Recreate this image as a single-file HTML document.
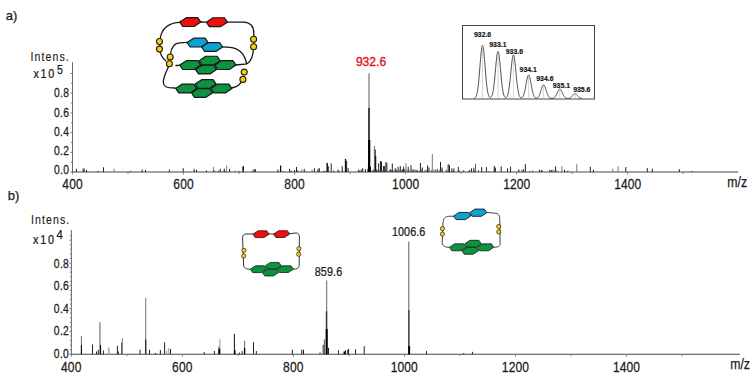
<!DOCTYPE html>
<html><head><meta charset="utf-8"><title>Mass spectra</title>
<style>html,body{margin:0;padding:0;background:#fff;}svg{display:block;}</style></head>
<body><svg width="755" height="382" viewBox="0 0 755 382" font-family="Liberation Sans, sans-serif">
<rect width="755" height="382" fill="#fff"/>
<line x1="72.5" y1="62.2" x2="72.5" y2="172.5" stroke="#666" stroke-width="1"/>
<line x1="72.0" y1="172.0" x2="738.3" y2="172.0" stroke="#484848" stroke-width="1.05"/>
<line x1="70.3" y1="172.00" x2="72.5" y2="172.00" stroke="#777" stroke-width="0.9"/>
<line x1="70.9" y1="162.15" x2="72.5" y2="162.15" stroke="#777" stroke-width="0.9"/>
<line x1="70.3" y1="152.30" x2="72.5" y2="152.30" stroke="#777" stroke-width="0.9"/>
<line x1="70.9" y1="142.45" x2="72.5" y2="142.45" stroke="#777" stroke-width="0.9"/>
<line x1="70.3" y1="132.60" x2="72.5" y2="132.60" stroke="#777" stroke-width="0.9"/>
<line x1="70.9" y1="122.75" x2="72.5" y2="122.75" stroke="#777" stroke-width="0.9"/>
<line x1="70.3" y1="112.90" x2="72.5" y2="112.90" stroke="#777" stroke-width="0.9"/>
<line x1="70.9" y1="103.05" x2="72.5" y2="103.05" stroke="#777" stroke-width="0.9"/>
<line x1="70.3" y1="93.20" x2="72.5" y2="93.20" stroke="#777" stroke-width="0.9"/>
<line x1="70.9" y1="83.35" x2="72.5" y2="83.35" stroke="#777" stroke-width="0.9"/>
<line x1="70.3" y1="73.50" x2="72.5" y2="73.50" stroke="#777" stroke-width="0.9"/>
<line x1="72.50" y1="172.0" x2="72.50" y2="174.5" stroke="#777" stroke-width="0.9"/>
<line x1="128.02" y1="172.0" x2="128.02" y2="174.0" stroke="#777" stroke-width="0.9"/>
<line x1="183.54" y1="172.0" x2="183.54" y2="174.5" stroke="#777" stroke-width="0.9"/>
<line x1="239.06" y1="172.0" x2="239.06" y2="174.0" stroke="#777" stroke-width="0.9"/>
<line x1="294.58" y1="172.0" x2="294.58" y2="174.5" stroke="#777" stroke-width="0.9"/>
<line x1="350.10" y1="172.0" x2="350.10" y2="174.0" stroke="#777" stroke-width="0.9"/>
<line x1="405.62" y1="172.0" x2="405.62" y2="174.5" stroke="#777" stroke-width="0.9"/>
<line x1="461.14" y1="172.0" x2="461.14" y2="174.0" stroke="#777" stroke-width="0.9"/>
<line x1="516.66" y1="172.0" x2="516.66" y2="174.5" stroke="#777" stroke-width="0.9"/>
<line x1="572.18" y1="172.0" x2="572.18" y2="174.0" stroke="#777" stroke-width="0.9"/>
<line x1="627.70" y1="172.0" x2="627.70" y2="174.5" stroke="#777" stroke-width="0.9"/>
<line x1="683.22" y1="172.0" x2="683.22" y2="174.0" stroke="#777" stroke-width="0.9"/>
<line x1="71.4" y1="230.0" x2="71.4" y2="354.7" stroke="#666" stroke-width="1"/>
<line x1="70.9" y1="354.2" x2="740.0" y2="354.2" stroke="#484848" stroke-width="1.05"/>
<line x1="69.2" y1="354.20" x2="71.4" y2="354.20" stroke="#777" stroke-width="0.9"/>
<line x1="69.80000000000001" y1="349.64" x2="71.4" y2="349.64" stroke="#777" stroke-width="0.9"/>
<line x1="69.80000000000001" y1="345.08" x2="71.4" y2="345.08" stroke="#777" stroke-width="0.9"/>
<line x1="69.80000000000001" y1="340.52" x2="71.4" y2="340.52" stroke="#777" stroke-width="0.9"/>
<line x1="69.80000000000001" y1="335.96" x2="71.4" y2="335.96" stroke="#777" stroke-width="0.9"/>
<line x1="69.2" y1="331.40" x2="71.4" y2="331.40" stroke="#777" stroke-width="0.9"/>
<line x1="69.80000000000001" y1="326.84" x2="71.4" y2="326.84" stroke="#777" stroke-width="0.9"/>
<line x1="69.80000000000001" y1="322.28" x2="71.4" y2="322.28" stroke="#777" stroke-width="0.9"/>
<line x1="69.80000000000001" y1="317.72" x2="71.4" y2="317.72" stroke="#777" stroke-width="0.9"/>
<line x1="69.80000000000001" y1="313.16" x2="71.4" y2="313.16" stroke="#777" stroke-width="0.9"/>
<line x1="69.2" y1="308.60" x2="71.4" y2="308.60" stroke="#777" stroke-width="0.9"/>
<line x1="69.80000000000001" y1="304.04" x2="71.4" y2="304.04" stroke="#777" stroke-width="0.9"/>
<line x1="69.80000000000001" y1="299.48" x2="71.4" y2="299.48" stroke="#777" stroke-width="0.9"/>
<line x1="69.80000000000001" y1="294.92" x2="71.4" y2="294.92" stroke="#777" stroke-width="0.9"/>
<line x1="69.80000000000001" y1="290.36" x2="71.4" y2="290.36" stroke="#777" stroke-width="0.9"/>
<line x1="69.2" y1="285.80" x2="71.4" y2="285.80" stroke="#777" stroke-width="0.9"/>
<line x1="69.80000000000001" y1="281.24" x2="71.4" y2="281.24" stroke="#777" stroke-width="0.9"/>
<line x1="69.80000000000001" y1="276.68" x2="71.4" y2="276.68" stroke="#777" stroke-width="0.9"/>
<line x1="69.80000000000001" y1="272.12" x2="71.4" y2="272.12" stroke="#777" stroke-width="0.9"/>
<line x1="69.80000000000001" y1="267.56" x2="71.4" y2="267.56" stroke="#777" stroke-width="0.9"/>
<line x1="69.2" y1="263.00" x2="71.4" y2="263.00" stroke="#777" stroke-width="0.9"/>
<line x1="69.80000000000001" y1="258.44" x2="71.4" y2="258.44" stroke="#777" stroke-width="0.9"/>
<line x1="69.80000000000001" y1="253.88" x2="71.4" y2="253.88" stroke="#777" stroke-width="0.9"/>
<line x1="69.80000000000001" y1="249.32" x2="71.4" y2="249.32" stroke="#777" stroke-width="0.9"/>
<line x1="69.80000000000001" y1="244.76" x2="71.4" y2="244.76" stroke="#777" stroke-width="0.9"/>
<line x1="69.2" y1="240.20" x2="71.4" y2="240.20" stroke="#777" stroke-width="0.9"/>
<line x1="69.80000000000001" y1="235.64" x2="71.4" y2="235.64" stroke="#777" stroke-width="0.9"/>
<line x1="71.40" y1="354.2" x2="71.40" y2="356.7" stroke="#777" stroke-width="0.9"/>
<line x1="126.92" y1="354.2" x2="126.92" y2="356.2" stroke="#777" stroke-width="0.9"/>
<line x1="182.44" y1="354.2" x2="182.44" y2="356.7" stroke="#777" stroke-width="0.9"/>
<line x1="237.96" y1="354.2" x2="237.96" y2="356.2" stroke="#777" stroke-width="0.9"/>
<line x1="293.48" y1="354.2" x2="293.48" y2="356.7" stroke="#777" stroke-width="0.9"/>
<line x1="349.00" y1="354.2" x2="349.00" y2="356.2" stroke="#777" stroke-width="0.9"/>
<line x1="404.52" y1="354.2" x2="404.52" y2="356.7" stroke="#777" stroke-width="0.9"/>
<line x1="460.04" y1="354.2" x2="460.04" y2="356.2" stroke="#777" stroke-width="0.9"/>
<line x1="515.56" y1="354.2" x2="515.56" y2="356.7" stroke="#777" stroke-width="0.9"/>
<line x1="571.08" y1="354.2" x2="571.08" y2="356.2" stroke="#777" stroke-width="0.9"/>
<line x1="626.60" y1="354.2" x2="626.60" y2="356.7" stroke="#777" stroke-width="0.9"/>
<line x1="682.12" y1="354.2" x2="682.12" y2="356.2" stroke="#777" stroke-width="0.9"/>
<text x="5.8" y="20.0" font-size="13" text-anchor="start" font-weight="normal" fill="#1a1a1a" stroke="#1a1a1a" stroke-width="0.25">a)</text>
<text x="7.8" y="200.0" font-size="13" text-anchor="start" font-weight="normal" fill="#1a1a1a" stroke="#1a1a1a" stroke-width="0.25">b)</text>
<text transform="translate(30.6,60.7) scale(0.88,1)" x="0" y="0" font-size="12" text-anchor="start" font-weight="normal" fill="#1a1a1a" stroke="#1a1a1a" stroke-width="0.12" textLength="43.41" lengthAdjust="spacing">Intens.</text>
<text transform="translate(33.4,77.7) scale(0.9,1)" x="0" y="0" font-size="12" text-anchor="start" font-weight="normal" fill="#1a1a1a" stroke="#1a1a1a" stroke-width="0.25" textLength="23.11" lengthAdjust="spacing">x10</text>
<text x="56.9" y="73.5" font-size="12.5" text-anchor="start" font-weight="normal" fill="#1a1a1a" stroke="#1a1a1a" stroke-width="0.25" textLength="5.9" lengthAdjust="spacingAndGlyphs">5</text>
<text transform="translate(31.1,224.4) scale(0.88,1)" x="0" y="0" font-size="12" text-anchor="start" font-weight="normal" fill="#1a1a1a" stroke="#1a1a1a" stroke-width="0.12" textLength="43.41" lengthAdjust="spacing">Intens.</text>
<text transform="translate(33.1,244.0) scale(0.9,1)" x="0" y="0" font-size="12" text-anchor="start" font-weight="normal" fill="#1a1a1a" stroke="#1a1a1a" stroke-width="0.25" textLength="23.11" lengthAdjust="spacing">x10</text>
<text x="56.5" y="238.8" font-size="12" text-anchor="start" font-weight="normal" fill="#1a1a1a" stroke="#1a1a1a" stroke-width="0.25" textLength="6.3" lengthAdjust="spacingAndGlyphs">4</text>
<text transform="translate(69.0,173.7) scale(0.86,1)" x="0" y="0" font-size="12" text-anchor="end" font-weight="normal" fill="#1a1a1a" stroke="#1a1a1a" stroke-width="0.25" textLength="17.44" lengthAdjust="spacing">0.0</text>
<text transform="translate(69.0,155.39999999999998) scale(0.86,1)" x="0" y="0" font-size="12" text-anchor="end" font-weight="normal" fill="#1a1a1a" stroke="#1a1a1a" stroke-width="0.25" textLength="17.44" lengthAdjust="spacing">0.2</text>
<text transform="translate(69.0,136.2) scale(0.86,1)" x="0" y="0" font-size="12" text-anchor="end" font-weight="normal" fill="#1a1a1a" stroke="#1a1a1a" stroke-width="0.25" textLength="17.44" lengthAdjust="spacing">0.4</text>
<text transform="translate(69.0,117.10000000000001) scale(0.86,1)" x="0" y="0" font-size="12" text-anchor="end" font-weight="normal" fill="#1a1a1a" stroke="#1a1a1a" stroke-width="0.25" textLength="17.44" lengthAdjust="spacing">0.6</text>
<text transform="translate(69.0,97.10000000000001) scale(0.86,1)" x="0" y="0" font-size="12" text-anchor="end" font-weight="normal" fill="#1a1a1a" stroke="#1a1a1a" stroke-width="0.25" textLength="17.44" lengthAdjust="spacing">0.8</text>
<text transform="translate(68.8,358.0) scale(0.86,1)" x="0" y="0" font-size="12" text-anchor="end" font-weight="normal" fill="#1a1a1a" stroke="#1a1a1a" stroke-width="0.25" textLength="17.44" lengthAdjust="spacing">0.0</text>
<text transform="translate(68.8,335.0) scale(0.86,1)" x="0" y="0" font-size="12" text-anchor="end" font-weight="normal" fill="#1a1a1a" stroke="#1a1a1a" stroke-width="0.25" textLength="17.44" lengthAdjust="spacing">0.2</text>
<text transform="translate(68.8,313.0) scale(0.86,1)" x="0" y="0" font-size="12" text-anchor="end" font-weight="normal" fill="#1a1a1a" stroke="#1a1a1a" stroke-width="0.25" textLength="17.44" lengthAdjust="spacing">0.4</text>
<text transform="translate(68.8,290.4) scale(0.86,1)" x="0" y="0" font-size="12" text-anchor="end" font-weight="normal" fill="#1a1a1a" stroke="#1a1a1a" stroke-width="0.25" textLength="17.44" lengthAdjust="spacing">0.6</text>
<text transform="translate(68.8,268.2) scale(0.86,1)" x="0" y="0" font-size="12" text-anchor="end" font-weight="normal" fill="#1a1a1a" stroke="#1a1a1a" stroke-width="0.25" textLength="17.44" lengthAdjust="spacing">0.8</text>
<text transform="translate(72.5,188.6) scale(0.86,1)" x="0" y="0" font-size="14" text-anchor="middle" font-weight="normal" fill="#1a1a1a" stroke="#1a1a1a" stroke-width="0.25" textLength="23.84" lengthAdjust="spacing">400</text>
<text transform="translate(71.2,372.1) scale(0.86,1)" x="0" y="0" font-size="14" text-anchor="middle" font-weight="normal" fill="#1a1a1a" stroke="#1a1a1a" stroke-width="0.25" textLength="23.84" lengthAdjust="spacing">400</text>
<text transform="translate(183.54000000000002,188.6) scale(0.86,1)" x="0" y="0" font-size="14" text-anchor="middle" font-weight="normal" fill="#1a1a1a" stroke="#1a1a1a" stroke-width="0.25" textLength="23.84" lengthAdjust="spacing">600</text>
<text transform="translate(182.24,372.1) scale(0.86,1)" x="0" y="0" font-size="14" text-anchor="middle" font-weight="normal" fill="#1a1a1a" stroke="#1a1a1a" stroke-width="0.25" textLength="23.84" lengthAdjust="spacing">600</text>
<text transform="translate(294.58000000000004,188.6) scale(0.86,1)" x="0" y="0" font-size="14" text-anchor="middle" font-weight="normal" fill="#1a1a1a" stroke="#1a1a1a" stroke-width="0.25" textLength="23.84" lengthAdjust="spacing">800</text>
<text transform="translate(293.28000000000003,372.1) scale(0.86,1)" x="0" y="0" font-size="14" text-anchor="middle" font-weight="normal" fill="#1a1a1a" stroke="#1a1a1a" stroke-width="0.25" textLength="23.84" lengthAdjust="spacing">800</text>
<text transform="translate(405.62,188.6) scale(0.86,1)" x="0" y="0" font-size="14" text-anchor="middle" font-weight="normal" fill="#1a1a1a" stroke="#1a1a1a" stroke-width="0.25" textLength="31.40" lengthAdjust="spacing">1000</text>
<text transform="translate(404.32,372.1) scale(0.86,1)" x="0" y="0" font-size="14" text-anchor="middle" font-weight="normal" fill="#1a1a1a" stroke="#1a1a1a" stroke-width="0.25" textLength="31.40" lengthAdjust="spacing">1000</text>
<text transform="translate(516.6600000000001,188.6) scale(0.86,1)" x="0" y="0" font-size="14" text-anchor="middle" font-weight="normal" fill="#1a1a1a" stroke="#1a1a1a" stroke-width="0.25" textLength="31.40" lengthAdjust="spacing">1200</text>
<text transform="translate(515.36,372.1) scale(0.86,1)" x="0" y="0" font-size="14" text-anchor="middle" font-weight="normal" fill="#1a1a1a" stroke="#1a1a1a" stroke-width="0.25" textLength="31.40" lengthAdjust="spacing">1200</text>
<text transform="translate(627.7,188.6) scale(0.86,1)" x="0" y="0" font-size="14" text-anchor="middle" font-weight="normal" fill="#1a1a1a" stroke="#1a1a1a" stroke-width="0.25" textLength="31.40" lengthAdjust="spacing">1400</text>
<text transform="translate(626.4000000000001,372.1) scale(0.86,1)" x="0" y="0" font-size="14" text-anchor="middle" font-weight="normal" fill="#1a1a1a" stroke="#1a1a1a" stroke-width="0.25" textLength="31.40" lengthAdjust="spacing">1400</text>
<text x="727.3" y="186.8" font-size="14" text-anchor="start" font-weight="normal" fill="#1a1a1a" stroke="#1a1a1a" stroke-width="0.25" textLength="19.8" lengthAdjust="spacingAndGlyphs">m/z</text>
<text x="730.2" y="369.0" font-size="14" text-anchor="start" font-weight="normal" fill="#1a1a1a" stroke="#1a1a1a" stroke-width="0.25" textLength="19.8" lengthAdjust="spacingAndGlyphs">m/z</text>
<line x1="76.40" y1="168.80" x2="76.40" y2="172.00" stroke="#222" stroke-width="1.0"/>
<line x1="83.20" y1="168.60" x2="83.20" y2="172.00" stroke="#222" stroke-width="1.0"/>
<line x1="84.20" y1="168.60" x2="84.20" y2="172.00" stroke="#222" stroke-width="1.0"/>
<line x1="86.60" y1="170.00" x2="86.60" y2="172.00" stroke="#222" stroke-width="1.0"/>
<line x1="97.80" y1="170.80" x2="97.80" y2="172.00" stroke="#222" stroke-width="1.0"/>
<line x1="103.50" y1="167.30" x2="103.50" y2="172.00" stroke="#222" stroke-width="1.0"/>
<line x1="114.10" y1="168.80" x2="114.10" y2="172.00" stroke="#777" stroke-width="1.0"/>
<line x1="130.30" y1="171.00" x2="130.30" y2="172.00" stroke="#222" stroke-width="1.0"/>
<line x1="142.20" y1="169.50" x2="142.20" y2="172.00" stroke="#222" stroke-width="1.0"/>
<line x1="145.50" y1="170.00" x2="145.50" y2="172.00" stroke="#222" stroke-width="1.0"/>
<line x1="169.30" y1="169.50" x2="169.30" y2="172.00" stroke="#222" stroke-width="1.0"/>
<line x1="183.20" y1="168.20" x2="183.20" y2="172.00" stroke="#222" stroke-width="1.0"/>
<line x1="194.20" y1="168.80" x2="194.20" y2="172.00" stroke="#222" stroke-width="1.0"/>
<line x1="196.50" y1="169.90" x2="196.50" y2="172.00" stroke="#222" stroke-width="1.0"/>
<line x1="206.40" y1="170.40" x2="206.40" y2="172.00" stroke="#222" stroke-width="1.0"/>
<line x1="213.40" y1="166.90" x2="213.40" y2="172.00" stroke="#777" stroke-width="1.0"/>
<line x1="218.70" y1="170.80" x2="218.70" y2="172.00" stroke="#222" stroke-width="1.0"/>
<line x1="220.30" y1="168.80" x2="220.30" y2="172.00" stroke="#222" stroke-width="1.0"/>
<line x1="224.30" y1="168.60" x2="224.30" y2="172.00" stroke="#222" stroke-width="1.0"/>
<line x1="226.70" y1="165.50" x2="226.70" y2="172.00" stroke="#777" stroke-width="1.0"/>
<line x1="229.60" y1="168.80" x2="229.60" y2="172.00" stroke="#222" stroke-width="1.0"/>
<line x1="238.90" y1="171.00" x2="238.90" y2="172.00" stroke="#222" stroke-width="1.0"/>
<line x1="243.20" y1="166.20" x2="243.20" y2="172.00" stroke="#111" stroke-width="1.6"/>
<line x1="254.10" y1="169.10" x2="254.10" y2="172.00" stroke="#222" stroke-width="1.0"/>
<line x1="255.40" y1="169.10" x2="255.40" y2="172.00" stroke="#222" stroke-width="1.0"/>
<line x1="277.90" y1="169.50" x2="277.90" y2="172.00" stroke="#222" stroke-width="1.0"/>
<line x1="280.60" y1="165.50" x2="280.60" y2="172.00" stroke="#111" stroke-width="1.3"/>
<line x1="289.60" y1="168.80" x2="289.60" y2="172.00" stroke="#222" stroke-width="1.0"/>
<line x1="291.20" y1="170.80" x2="291.20" y2="172.00" stroke="#222" stroke-width="1.0"/>
<line x1="294.50" y1="170.20" x2="294.50" y2="172.00" stroke="#222" stroke-width="1.0"/>
<line x1="296.50" y1="166.90" x2="296.50" y2="172.00" stroke="#222" stroke-width="1.0"/>
<line x1="304.20" y1="168.80" x2="304.20" y2="172.00" stroke="#222" stroke-width="1.0"/>
<line x1="314.40" y1="168.20" x2="314.40" y2="172.00" stroke="#222" stroke-width="1.0"/>
<line x1="318.00" y1="168.80" x2="318.00" y2="172.00" stroke="#222" stroke-width="1.0"/>
<line x1="319.30" y1="168.20" x2="319.30" y2="172.00" stroke="#222" stroke-width="1.0"/>
<line x1="327.20" y1="162.90" x2="327.20" y2="172.00" stroke="#111" stroke-width="1.5"/>
<line x1="328.30" y1="166.20" x2="328.30" y2="172.00" stroke="#222" stroke-width="1.0"/>
<line x1="331.20" y1="163.30" x2="331.20" y2="172.00" stroke="#222" stroke-width="1.0"/>
<line x1="342.20" y1="166.20" x2="342.20" y2="172.00" stroke="#222" stroke-width="1.0"/>
<line x1="345.50" y1="158.90" x2="345.50" y2="172.00" stroke="#111" stroke-width="1.3"/>
<line x1="346.60" y1="160.90" x2="346.60" y2="172.00" stroke="#222" stroke-width="1.0"/>
<line x1="348.10" y1="168.20" x2="348.10" y2="172.00" stroke="#222" stroke-width="1.0"/>
<line x1="358.70" y1="170.00" x2="358.70" y2="172.00" stroke="#222" stroke-width="1.0"/>
<line x1="362.70" y1="168.20" x2="362.70" y2="172.00" stroke="#222" stroke-width="1.0"/>
<line x1="365.40" y1="169.10" x2="365.40" y2="172.00" stroke="#222" stroke-width="1.0"/>
<line x1="368.00" y1="168.80" x2="368.00" y2="172.00" stroke="#222" stroke-width="1.0"/>
<line x1="374.40" y1="145.90" x2="374.40" y2="172.00" stroke="#666" stroke-width="1.0"/>
<line x1="375.40" y1="149.50" x2="375.40" y2="172.00" stroke="#444" stroke-width="1.0"/>
<line x1="375.60" y1="156.00" x2="375.60" y2="172.00" stroke="#111" stroke-width="1.3"/>
<line x1="378.70" y1="163.20" x2="378.70" y2="172.00" stroke="#222" stroke-width="1.0"/>
<line x1="380.50" y1="161.00" x2="380.50" y2="172.00" stroke="#222" stroke-width="1.0"/>
<line x1="381.50" y1="161.70" x2="381.50" y2="172.00" stroke="#222" stroke-width="1.0"/>
<line x1="383.40" y1="166.00" x2="383.40" y2="172.00" stroke="#222" stroke-width="1.0"/>
<line x1="384.40" y1="166.00" x2="384.40" y2="172.00" stroke="#222" stroke-width="1.0"/>
<line x1="385.90" y1="162.00" x2="385.90" y2="172.00" stroke="#222" stroke-width="1.0"/>
<line x1="386.90" y1="162.90" x2="386.90" y2="172.00" stroke="#222" stroke-width="1.0"/>
<line x1="390.20" y1="169.00" x2="390.20" y2="172.00" stroke="#222" stroke-width="1.0"/>
<line x1="392.30" y1="163.50" x2="392.30" y2="172.00" stroke="#222" stroke-width="1.0"/>
<line x1="395.20" y1="168.20" x2="395.20" y2="172.00" stroke="#222" stroke-width="1.0"/>
<line x1="398.10" y1="166.80" x2="398.10" y2="172.00" stroke="#222" stroke-width="1.0"/>
<line x1="400.30" y1="166.00" x2="400.30" y2="172.00" stroke="#222" stroke-width="1.0"/>
<line x1="403.60" y1="166.80" x2="403.60" y2="172.00" stroke="#222" stroke-width="1.0"/>
<line x1="406.00" y1="163.20" x2="406.00" y2="172.00" stroke="#777" stroke-width="1.0"/>
<line x1="408.20" y1="166.80" x2="408.20" y2="172.00" stroke="#222" stroke-width="1.0"/>
<line x1="411.00" y1="165.30" x2="411.00" y2="172.00" stroke="#222" stroke-width="1.0"/>
<line x1="416.10" y1="170.40" x2="416.10" y2="172.00" stroke="#222" stroke-width="1.0"/>
<line x1="420.40" y1="162.90" x2="420.40" y2="172.00" stroke="#222" stroke-width="1.0"/>
<line x1="422.30" y1="167.50" x2="422.30" y2="172.00" stroke="#222" stroke-width="1.0"/>
<line x1="427.60" y1="165.30" x2="427.60" y2="172.00" stroke="#222" stroke-width="1.0"/>
<line x1="429.00" y1="167.50" x2="429.00" y2="172.00" stroke="#222" stroke-width="1.0"/>
<line x1="432.30" y1="154.10" x2="432.30" y2="172.00" stroke="#777" stroke-width="1.0"/>
<line x1="440.50" y1="162.00" x2="440.50" y2="172.00" stroke="#222" stroke-width="1.0"/>
<line x1="442.00" y1="167.50" x2="442.00" y2="172.00" stroke="#222" stroke-width="1.0"/>
<line x1="448.20" y1="164.20" x2="448.20" y2="172.00" stroke="#222" stroke-width="1.0"/>
<line x1="449.50" y1="165.10" x2="449.50" y2="172.00" stroke="#222" stroke-width="1.0"/>
<line x1="451.90" y1="168.40" x2="451.90" y2="172.00" stroke="#222" stroke-width="1.0"/>
<line x1="453.90" y1="168.40" x2="453.90" y2="172.00" stroke="#222" stroke-width="1.0"/>
<line x1="458.30" y1="166.80" x2="458.30" y2="172.00" stroke="#222" stroke-width="1.0"/>
<line x1="463.20" y1="170.40" x2="463.20" y2="172.00" stroke="#222" stroke-width="1.0"/>
<line x1="469.10" y1="170.40" x2="469.10" y2="172.00" stroke="#222" stroke-width="1.0"/>
<line x1="471.50" y1="168.40" x2="471.50" y2="172.00" stroke="#222" stroke-width="1.0"/>
<line x1="473.80" y1="167.70" x2="473.80" y2="172.00" stroke="#222" stroke-width="1.0"/>
<line x1="475.50" y1="163.80" x2="475.50" y2="172.00" stroke="#666" stroke-width="1.0"/>
<line x1="481.70" y1="167.10" x2="481.70" y2="172.00" stroke="#222" stroke-width="1.0"/>
<line x1="486.40" y1="167.10" x2="486.40" y2="172.00" stroke="#222" stroke-width="1.0"/>
<line x1="494.30" y1="166.00" x2="494.30" y2="172.00" stroke="#222" stroke-width="1.0"/>
<line x1="495.40" y1="167.70" x2="495.40" y2="172.00" stroke="#222" stroke-width="1.0"/>
<line x1="501.20" y1="166.40" x2="501.20" y2="172.00" stroke="#222" stroke-width="1.0"/>
<line x1="507.50" y1="168.40" x2="507.50" y2="172.00" stroke="#222" stroke-width="1.0"/>
<line x1="510.50" y1="166.80" x2="510.50" y2="172.00" stroke="#222" stroke-width="1.0"/>
<line x1="518.80" y1="169.70" x2="518.80" y2="172.00" stroke="#222" stroke-width="1.0"/>
<line x1="523.40" y1="169.10" x2="523.40" y2="172.00" stroke="#222" stroke-width="1.0"/>
<line x1="525.40" y1="164.20" x2="525.40" y2="172.00" stroke="#222" stroke-width="1.0"/>
<line x1="539.30" y1="169.70" x2="539.30" y2="172.00" stroke="#222" stroke-width="1.0"/>
<line x1="541.30" y1="170.00" x2="541.30" y2="172.00" stroke="#222" stroke-width="1.0"/>
<line x1="551.70" y1="170.00" x2="551.70" y2="172.00" stroke="#222" stroke-width="1.0"/>
<line x1="555.60" y1="166.40" x2="555.60" y2="172.00" stroke="#222" stroke-width="1.0"/>
<line x1="561.90" y1="166.00" x2="561.90" y2="172.00" stroke="#777" stroke-width="1.0"/>
<line x1="564.50" y1="169.70" x2="564.50" y2="172.00" stroke="#222" stroke-width="1.0"/>
<line x1="567.80" y1="170.80" x2="567.80" y2="172.00" stroke="#222" stroke-width="1.0"/>
<line x1="576.80" y1="164.20" x2="576.80" y2="172.00" stroke="#777" stroke-width="1.0"/>
<line x1="590.30" y1="166.80" x2="590.30" y2="172.00" stroke="#222" stroke-width="1.0"/>
<line x1="593.40" y1="169.70" x2="593.40" y2="172.00" stroke="#222" stroke-width="1.0"/>
<line x1="612.80" y1="168.70" x2="612.80" y2="172.00" stroke="#777" stroke-width="1.0"/>
<line x1="618.10" y1="166.40" x2="618.10" y2="172.00" stroke="#777" stroke-width="1.0"/>
<line x1="625.80" y1="167.10" x2="625.80" y2="172.00" stroke="#222" stroke-width="1.0"/>
<line x1="647.30" y1="168.10" x2="647.30" y2="172.00" stroke="#222" stroke-width="1.0"/>
<line x1="652.30" y1="168.70" x2="652.30" y2="172.00" stroke="#222" stroke-width="1.0"/>
<line x1="679.30" y1="169.10" x2="679.30" y2="172.00" stroke="#222" stroke-width="1.0"/>
<line x1="692.30" y1="171.00" x2="692.30" y2="172.00" stroke="#222" stroke-width="1.0"/>
<line x1="397.26" y1="170.84" x2="397.26" y2="172.00" stroke="#444" stroke-width="0.8"/>
<line x1="422.77" y1="171.03" x2="422.77" y2="172.00" stroke="#444" stroke-width="0.8"/>
<line x1="413.80" y1="170.32" x2="413.80" y2="172.00" stroke="#444" stroke-width="0.8"/>
<line x1="376.52" y1="169.98" x2="376.52" y2="172.00" stroke="#444" stroke-width="0.8"/>
<line x1="374.92" y1="170.16" x2="374.92" y2="172.00" stroke="#444" stroke-width="0.8"/>
<line x1="377.45" y1="170.98" x2="377.45" y2="172.00" stroke="#444" stroke-width="0.8"/>
<line x1="405.11" y1="169.22" x2="405.11" y2="172.00" stroke="#444" stroke-width="0.8"/>
<line x1="381.66" y1="170.66" x2="381.66" y2="172.00" stroke="#444" stroke-width="0.8"/>
<line x1="420.94" y1="168.93" x2="420.94" y2="172.00" stroke="#444" stroke-width="0.8"/>
<line x1="417.01" y1="170.25" x2="417.01" y2="172.00" stroke="#444" stroke-width="0.8"/>
<line x1="448.15" y1="171.09" x2="448.15" y2="172.00" stroke="#444" stroke-width="0.8"/>
<line x1="438.96" y1="170.50" x2="438.96" y2="172.00" stroke="#444" stroke-width="0.8"/>
<line x1="383.25" y1="170.92" x2="383.25" y2="172.00" stroke="#444" stroke-width="0.8"/>
<line x1="396.06" y1="169.24" x2="396.06" y2="172.00" stroke="#444" stroke-width="0.8"/>
<line x1="386.10" y1="169.80" x2="386.10" y2="172.00" stroke="#444" stroke-width="0.8"/>
<line x1="421.84" y1="170.31" x2="421.84" y2="172.00" stroke="#444" stroke-width="0.8"/>
<line x1="414.72" y1="171.05" x2="414.72" y2="172.00" stroke="#444" stroke-width="0.8"/>
<line x1="376.65" y1="170.71" x2="376.65" y2="172.00" stroke="#444" stroke-width="0.8"/>
<line x1="425.07" y1="170.17" x2="425.07" y2="172.00" stroke="#444" stroke-width="0.8"/>
<line x1="396.50" y1="169.79" x2="396.50" y2="172.00" stroke="#444" stroke-width="0.8"/>
<line x1="407.35" y1="170.48" x2="407.35" y2="172.00" stroke="#444" stroke-width="0.8"/>
<line x1="433.96" y1="169.52" x2="433.96" y2="172.00" stroke="#444" stroke-width="0.8"/>
<line x1="391.04" y1="169.82" x2="391.04" y2="172.00" stroke="#444" stroke-width="0.8"/>
<line x1="412.97" y1="169.10" x2="412.97" y2="172.00" stroke="#444" stroke-width="0.8"/>
<line x1="428.90" y1="170.51" x2="428.90" y2="172.00" stroke="#444" stroke-width="0.8"/>
<line x1="448.45" y1="170.92" x2="448.45" y2="172.00" stroke="#444" stroke-width="0.8"/>
<line x1="404.61" y1="169.38" x2="404.61" y2="172.00" stroke="#444" stroke-width="0.8"/>
<line x1="383.85" y1="170.03" x2="383.85" y2="172.00" stroke="#444" stroke-width="0.8"/>
<line x1="375.06" y1="169.60" x2="375.06" y2="172.00" stroke="#444" stroke-width="0.8"/>
<line x1="431.64" y1="169.82" x2="431.64" y2="172.00" stroke="#444" stroke-width="0.8"/>
<line x1="440.29" y1="170.45" x2="440.29" y2="172.00" stroke="#444" stroke-width="0.8"/>
<line x1="426.23" y1="169.77" x2="426.23" y2="172.00" stroke="#444" stroke-width="0.8"/>
<line x1="417.23" y1="170.11" x2="417.23" y2="172.00" stroke="#444" stroke-width="0.8"/>
<line x1="437.52" y1="168.93" x2="437.52" y2="172.00" stroke="#444" stroke-width="0.8"/>
<line x1="408.98" y1="169.61" x2="408.98" y2="172.00" stroke="#444" stroke-width="0.8"/>
<line x1="376.73" y1="169.52" x2="376.73" y2="172.00" stroke="#444" stroke-width="0.8"/>
<line x1="422.48" y1="168.82" x2="422.48" y2="172.00" stroke="#444" stroke-width="0.8"/>
<line x1="436.11" y1="170.52" x2="436.11" y2="172.00" stroke="#444" stroke-width="0.8"/>
<line x1="402.09" y1="169.60" x2="402.09" y2="172.00" stroke="#444" stroke-width="0.8"/>
<line x1="373.76" y1="170.09" x2="373.76" y2="172.00" stroke="#444" stroke-width="0.8"/>
<line x1="385.11" y1="170.92" x2="385.11" y2="172.00" stroke="#444" stroke-width="0.8"/>
<line x1="376.60" y1="169.36" x2="376.60" y2="172.00" stroke="#444" stroke-width="0.8"/>
<line x1="382.09" y1="170.61" x2="382.09" y2="172.00" stroke="#444" stroke-width="0.8"/>
<line x1="402.49" y1="169.11" x2="402.49" y2="172.00" stroke="#444" stroke-width="0.8"/>
<line x1="378.29" y1="170.12" x2="378.29" y2="172.00" stroke="#444" stroke-width="0.8"/>
<line x1="414.86" y1="169.08" x2="414.86" y2="172.00" stroke="#444" stroke-width="0.8"/>
<line x1="435.90" y1="169.13" x2="435.90" y2="172.00" stroke="#444" stroke-width="0.8"/>
<line x1="393.72" y1="170.20" x2="393.72" y2="172.00" stroke="#444" stroke-width="0.8"/>
<line x1="399.98" y1="169.08" x2="399.98" y2="172.00" stroke="#444" stroke-width="0.8"/>
<line x1="446.70" y1="170.84" x2="446.70" y2="172.00" stroke="#444" stroke-width="0.8"/>
<line x1="385.74" y1="170.64" x2="385.74" y2="172.00" stroke="#444" stroke-width="0.8"/>
<line x1="390.20" y1="170.04" x2="390.20" y2="172.00" stroke="#444" stroke-width="0.8"/>
<line x1="417.95" y1="170.57" x2="417.95" y2="172.00" stroke="#444" stroke-width="0.8"/>
<line x1="372.32" y1="170.19" x2="372.32" y2="172.00" stroke="#444" stroke-width="0.8"/>
<line x1="400.80" y1="169.84" x2="400.80" y2="172.00" stroke="#444" stroke-width="0.8"/>
<line x1="446.34" y1="169.54" x2="446.34" y2="172.00" stroke="#444" stroke-width="0.8"/>
<line x1="412.21" y1="169.72" x2="412.21" y2="172.00" stroke="#444" stroke-width="0.8"/>
<line x1="424.74" y1="171.07" x2="424.74" y2="172.00" stroke="#444" stroke-width="0.8"/>
<line x1="442.16" y1="169.33" x2="442.16" y2="172.00" stroke="#444" stroke-width="0.8"/>
<line x1="440.21" y1="169.29" x2="440.21" y2="172.00" stroke="#444" stroke-width="0.8"/>
<line x1="402.61" y1="170.24" x2="402.61" y2="172.00" stroke="#444" stroke-width="0.8"/>
<line x1="380.08" y1="169.68" x2="380.08" y2="172.00" stroke="#444" stroke-width="0.8"/>
<line x1="376.86" y1="171.04" x2="376.86" y2="172.00" stroke="#444" stroke-width="0.8"/>
<line x1="388.28" y1="170.81" x2="388.28" y2="172.00" stroke="#444" stroke-width="0.8"/>
<line x1="398.52" y1="171.07" x2="398.52" y2="172.00" stroke="#444" stroke-width="0.8"/>
<line x1="372.02" y1="170.84" x2="372.02" y2="172.00" stroke="#444" stroke-width="0.8"/>
<line x1="379.91" y1="170.33" x2="379.91" y2="172.00" stroke="#444" stroke-width="0.8"/>
<line x1="373.99" y1="169.10" x2="373.99" y2="172.00" stroke="#444" stroke-width="0.8"/>
<line x1="419.90" y1="170.84" x2="419.90" y2="172.00" stroke="#444" stroke-width="0.8"/>
<line x1="391.68" y1="170.37" x2="391.68" y2="172.00" stroke="#444" stroke-width="0.8"/>
<line x1="326.22" y1="170.99" x2="326.22" y2="172.00" stroke="#444" stroke-width="0.8"/>
<line x1="361.12" y1="169.51" x2="361.12" y2="172.00" stroke="#444" stroke-width="0.8"/>
<line x1="333.55" y1="170.38" x2="333.55" y2="172.00" stroke="#444" stroke-width="0.8"/>
<line x1="306.18" y1="171.03" x2="306.18" y2="172.00" stroke="#444" stroke-width="0.8"/>
<line x1="324.67" y1="170.75" x2="324.67" y2="172.00" stroke="#444" stroke-width="0.8"/>
<line x1="359.68" y1="170.93" x2="359.68" y2="172.00" stroke="#444" stroke-width="0.8"/>
<line x1="301.66" y1="169.58" x2="301.66" y2="172.00" stroke="#444" stroke-width="0.8"/>
<line x1="338.03" y1="170.95" x2="338.03" y2="172.00" stroke="#444" stroke-width="0.8"/>
<line x1="339.11" y1="171.15" x2="339.11" y2="172.00" stroke="#444" stroke-width="0.8"/>
<line x1="338.02" y1="169.54" x2="338.02" y2="172.00" stroke="#444" stroke-width="0.8"/>
<line x1="362.16" y1="170.02" x2="362.16" y2="172.00" stroke="#444" stroke-width="0.8"/>
<line x1="318.80" y1="170.58" x2="318.80" y2="172.00" stroke="#444" stroke-width="0.8"/>
<line x1="312.03" y1="169.89" x2="312.03" y2="172.00" stroke="#444" stroke-width="0.8"/>
<line x1="338.35" y1="169.88" x2="338.35" y2="172.00" stroke="#444" stroke-width="0.8"/>
<line x1="323.74" y1="170.82" x2="323.74" y2="172.00" stroke="#444" stroke-width="0.8"/>
<line x1="358.43" y1="169.53" x2="358.43" y2="172.00" stroke="#444" stroke-width="0.8"/>
<line x1="361.39" y1="169.83" x2="361.39" y2="172.00" stroke="#444" stroke-width="0.8"/>
<line x1="358.92" y1="169.94" x2="358.92" y2="172.00" stroke="#444" stroke-width="0.8"/>
<line x1="474.94" y1="170.32" x2="474.94" y2="172.00" stroke="#444" stroke-width="0.8"/>
<line x1="489.11" y1="171.15" x2="489.11" y2="172.00" stroke="#444" stroke-width="0.8"/>
<line x1="453.07" y1="170.72" x2="453.07" y2="172.00" stroke="#444" stroke-width="0.8"/>
<line x1="478.51" y1="170.02" x2="478.51" y2="172.00" stroke="#444" stroke-width="0.8"/>
<line x1="555.22" y1="170.44" x2="555.22" y2="172.00" stroke="#444" stroke-width="0.8"/>
<line x1="553.07" y1="169.52" x2="553.07" y2="172.00" stroke="#444" stroke-width="0.8"/>
<line x1="555.05" y1="170.58" x2="555.05" y2="172.00" stroke="#444" stroke-width="0.8"/>
<line x1="474.25" y1="170.81" x2="474.25" y2="172.00" stroke="#444" stroke-width="0.8"/>
<line x1="471.64" y1="170.85" x2="471.64" y2="172.00" stroke="#444" stroke-width="0.8"/>
<line x1="518.65" y1="169.67" x2="518.65" y2="172.00" stroke="#444" stroke-width="0.8"/>
<line x1="542.45" y1="170.38" x2="542.45" y2="172.00" stroke="#444" stroke-width="0.8"/>
<line x1="521.83" y1="169.84" x2="521.83" y2="172.00" stroke="#444" stroke-width="0.8"/>
<line x1="459.33" y1="170.08" x2="459.33" y2="172.00" stroke="#444" stroke-width="0.8"/>
<line x1="550.08" y1="169.87" x2="550.08" y2="172.00" stroke="#444" stroke-width="0.8"/>
<line x1="532.52" y1="170.39" x2="532.52" y2="172.00" stroke="#444" stroke-width="0.8"/>
<line x1="469.64" y1="169.86" x2="469.64" y2="172.00" stroke="#444" stroke-width="0.8"/>
<line x1="486.58" y1="169.84" x2="486.58" y2="172.00" stroke="#444" stroke-width="0.8"/>
<line x1="556.88" y1="170.53" x2="556.88" y2="172.00" stroke="#444" stroke-width="0.8"/>
<line x1="494.15" y1="169.59" x2="494.15" y2="172.00" stroke="#444" stroke-width="0.8"/>
<line x1="529.73" y1="170.91" x2="529.73" y2="172.00" stroke="#444" stroke-width="0.8"/>
<line x1="463.97" y1="170.94" x2="463.97" y2="172.00" stroke="#444" stroke-width="0.8"/>
<line x1="549.53" y1="169.83" x2="549.53" y2="172.00" stroke="#444" stroke-width="0.8"/>
<line x1="214.62" y1="170.21" x2="214.62" y2="172.00" stroke="#444" stroke-width="0.8"/>
<line x1="298.03" y1="170.41" x2="298.03" y2="172.00" stroke="#444" stroke-width="0.8"/>
<line x1="235.04" y1="170.54" x2="235.04" y2="172.00" stroke="#444" stroke-width="0.8"/>
<line x1="213.10" y1="171.18" x2="213.10" y2="172.00" stroke="#444" stroke-width="0.8"/>
<line x1="297.09" y1="170.42" x2="297.09" y2="172.00" stroke="#444" stroke-width="0.8"/>
<line x1="252.66" y1="170.08" x2="252.66" y2="172.00" stroke="#444" stroke-width="0.8"/>
<line x1="243.38" y1="170.15" x2="243.38" y2="172.00" stroke="#444" stroke-width="0.8"/>
<line x1="282.62" y1="170.95" x2="282.62" y2="172.00" stroke="#444" stroke-width="0.8"/>
<line x1="225.18" y1="170.85" x2="225.18" y2="172.00" stroke="#444" stroke-width="0.8"/>
<line x1="224.05" y1="170.50" x2="224.05" y2="172.00" stroke="#444" stroke-width="0.8"/>
<line x1="369.00" y1="73.30" x2="369.00" y2="172.00" stroke="#5a5a5a" stroke-width="1.0"/>
<line x1="369.00" y1="108.00" x2="369.00" y2="172.00" stroke="#2a2a2a" stroke-width="1.6"/>
<line x1="369.20" y1="140.00" x2="369.20" y2="172.00" stroke="#000" stroke-width="2.2"/>
<line x1="369.40" y1="166.50" x2="369.40" y2="172.00" stroke="#000" stroke-width="3.0"/>
<line x1="81.40" y1="336.10" x2="81.40" y2="354.30" stroke="#666" stroke-width="1.0"/>
<line x1="81.40" y1="345.10" x2="81.40" y2="354.30" stroke="#000" stroke-width="1.0"/>
<line x1="92.50" y1="344.50" x2="92.50" y2="354.30" stroke="#222" stroke-width="1.0"/>
<line x1="96.50" y1="351.50" x2="96.50" y2="354.30" stroke="#222" stroke-width="1.0"/>
<line x1="98.30" y1="349.90" x2="98.30" y2="354.30" stroke="#222" stroke-width="1.0"/>
<line x1="99.90" y1="322.30" x2="99.90" y2="354.30" stroke="#888" stroke-width="1.4"/>
<line x1="100.60" y1="344.90" x2="100.60" y2="354.30" stroke="#000" stroke-width="1.0"/>
<line x1="103.40" y1="350.40" x2="103.40" y2="354.30" stroke="#222" stroke-width="1.0"/>
<line x1="108.80" y1="347.60" x2="108.80" y2="354.30" stroke="#aaa" stroke-width="1.6"/>
<line x1="117.40" y1="345.80" x2="117.40" y2="354.30" stroke="#222" stroke-width="1.0"/>
<line x1="118.20" y1="351.40" x2="118.20" y2="354.30" stroke="#222" stroke-width="1.0"/>
<line x1="121.60" y1="342.60" x2="121.60" y2="354.30" stroke="#555" stroke-width="1.0"/>
<line x1="122.40" y1="338.20" x2="122.40" y2="354.30" stroke="#777" stroke-width="1.0"/>
<line x1="140.10" y1="349.70" x2="140.10" y2="354.30" stroke="#222" stroke-width="1.0"/>
<line x1="145.70" y1="297.80" x2="145.70" y2="354.30" stroke="#777" stroke-width="1.0"/>
<line x1="145.80" y1="339.60" x2="145.80" y2="354.30" stroke="#000" stroke-width="1.0"/>
<line x1="149.50" y1="349.70" x2="149.50" y2="354.30" stroke="#222" stroke-width="1.0"/>
<line x1="155.40" y1="353.00" x2="155.40" y2="354.30" stroke="#222" stroke-width="1.0"/>
<line x1="160.40" y1="350.00" x2="160.40" y2="354.30" stroke="#222" stroke-width="1.0"/>
<line x1="164.60" y1="342.30" x2="164.60" y2="354.30" stroke="#222" stroke-width="1.0"/>
<line x1="166.70" y1="350.70" x2="166.70" y2="354.30" stroke="#999" stroke-width="1.0"/>
<line x1="168.70" y1="348.00" x2="168.70" y2="354.30" stroke="#999" stroke-width="1.0"/>
<line x1="170.50" y1="349.00" x2="170.50" y2="354.30" stroke="#222" stroke-width="1.0"/>
<line x1="204.20" y1="352.00" x2="204.20" y2="354.30" stroke="#222" stroke-width="1.0"/>
<line x1="214.40" y1="351.00" x2="214.40" y2="354.30" stroke="#222" stroke-width="1.0"/>
<line x1="218.90" y1="346.30" x2="218.90" y2="354.30" stroke="#666" stroke-width="1.0"/>
<line x1="219.90" y1="339.20" x2="219.90" y2="354.30" stroke="#999" stroke-width="1.0"/>
<line x1="219.30" y1="348.60" x2="219.30" y2="354.30" stroke="#000" stroke-width="1.8"/>
<line x1="234.40" y1="333.80" x2="234.40" y2="354.30" stroke="#111" stroke-width="1.0"/>
<line x1="234.70" y1="350.20" x2="234.70" y2="354.30" stroke="#000" stroke-width="1.6"/>
<line x1="239.40" y1="352.60" x2="239.40" y2="354.30" stroke="#222" stroke-width="1.0"/>
<line x1="242.20" y1="351.00" x2="242.20" y2="354.30" stroke="#222" stroke-width="1.0"/>
<line x1="244.60" y1="340.80" x2="244.60" y2="354.30" stroke="#666" stroke-width="1.0"/>
<line x1="244.60" y1="348.00" x2="244.60" y2="354.30" stroke="#000" stroke-width="1.3"/>
<line x1="253.50" y1="342.10" x2="253.50" y2="354.30" stroke="#222" stroke-width="1.0"/>
<line x1="256.30" y1="351.00" x2="256.30" y2="354.30" stroke="#222" stroke-width="1.0"/>
<line x1="292.40" y1="349.70" x2="292.40" y2="354.30" stroke="#222" stroke-width="1.0"/>
<line x1="301.80" y1="349.70" x2="301.80" y2="354.30" stroke="#222" stroke-width="1.0"/>
<line x1="303.50" y1="349.70" x2="303.50" y2="354.30" stroke="#222" stroke-width="1.0"/>
<line x1="320.00" y1="352.50" x2="320.00" y2="354.30" stroke="#222" stroke-width="1.0"/>
<line x1="323.20" y1="344.80" x2="323.20" y2="354.30" stroke="#222" stroke-width="1.0"/>
<line x1="324.40" y1="339.50" x2="324.40" y2="354.30" stroke="#555" stroke-width="1.0"/>
<line x1="328.50" y1="347.80" x2="328.50" y2="354.30" stroke="#222" stroke-width="1.0"/>
<line x1="338.40" y1="350.20" x2="338.40" y2="354.30" stroke="#222" stroke-width="1.0"/>
<line x1="344.30" y1="351.40" x2="344.30" y2="354.30" stroke="#000" stroke-width="1.5"/>
<line x1="345.50" y1="350.20" x2="345.50" y2="354.30" stroke="#222" stroke-width="1.0"/>
<line x1="347.70" y1="349.80" x2="347.70" y2="354.30" stroke="#222" stroke-width="1.0"/>
<line x1="348.60" y1="348.90" x2="348.60" y2="354.30" stroke="#222" stroke-width="1.0"/>
<line x1="355.50" y1="349.40" x2="355.50" y2="354.30" stroke="#222" stroke-width="1.0"/>
<line x1="364.20" y1="346.20" x2="364.20" y2="354.30" stroke="#222" stroke-width="1.0"/>
<line x1="426.50" y1="351.10" x2="426.50" y2="354.30" stroke="#222" stroke-width="1.0"/>
<line x1="463.70" y1="353.00" x2="463.70" y2="354.30" stroke="#222" stroke-width="1.0"/>
<line x1="472.40" y1="351.80" x2="472.40" y2="354.30" stroke="#222" stroke-width="1.0"/>
<line x1="326.70" y1="280.40" x2="326.70" y2="354.30" stroke="#666" stroke-width="1.0"/>
<line x1="326.50" y1="311.30" x2="326.50" y2="354.30" stroke="#333" stroke-width="1.4"/>
<line x1="326.70" y1="329.00" x2="326.70" y2="354.30" stroke="#000" stroke-width="2.0"/>
<line x1="408.80" y1="241.50" x2="408.80" y2="354.30" stroke="#5a5a5a" stroke-width="1.0"/>
<line x1="408.90" y1="310.00" x2="408.90" y2="354.30" stroke="#2a2a2a" stroke-width="1.1"/>
<line x1="409.20" y1="346.00" x2="409.20" y2="354.30" stroke="#000" stroke-width="1.8"/>
<text x="355.9" y="66.0" font-size="12" text-anchor="start" font-weight="normal" fill="#e31019" stroke="#e31019" stroke-width="0.35" textLength="30.2" lengthAdjust="spacingAndGlyphs">932.6</text>
<text transform="translate(314.7,275.9) scale(0.9,1)" x="0" y="0" font-size="12" text-anchor="start" font-weight="normal" fill="#1a1a1a" stroke="#1a1a1a" stroke-width="0.25" textLength="30.56" lengthAdjust="spacing">859.6</text>
<text transform="translate(392.0,235.7) scale(0.9,1)" x="0" y="0" font-size="12" text-anchor="start" font-weight="normal" fill="#1a1a1a" stroke="#1a1a1a" stroke-width="0.25" textLength="37.00" lengthAdjust="spacing">1006.6</text>
<rect x="462.5" y="25.5" width="132" height="73.5" fill="#fff" stroke="#444" stroke-width="1"/>
<polyline points="474.00,98.39 474.25,98.32 474.50,98.21 474.75,98.08 475.00,97.90 475.25,97.67 475.50,97.37 475.75,97.00 476.00,96.53 476.25,95.96 476.50,95.26 476.75,94.41 477.00,93.40 477.25,92.21 477.50,90.82 477.75,89.21 478.00,87.39 478.25,85.33 478.50,83.05 478.75,80.56 479.00,77.86 479.25,74.99 479.50,71.97 479.75,68.86 480.00,65.70 480.25,62.55 480.50,59.49 480.75,56.56 481.00,53.85 481.25,51.42 481.50,49.34 481.75,47.65 482.00,46.41 482.25,45.66 482.50,45.40 482.75,45.66 483.00,46.41 483.25,47.65 483.50,49.34 483.75,51.42 484.00,53.85 484.25,56.56 484.50,59.49 484.75,62.55 485.00,65.70 485.25,68.86 485.50,71.97 485.75,74.98 486.00,77.86 486.25,80.56 486.50,83.05 486.75,85.33 487.00,87.38 487.25,89.21 487.50,90.81 487.75,92.20 488.00,93.38 488.25,94.38 488.50,95.21 488.75,95.90 489.00,96.44 489.25,96.87 489.50,97.19 489.75,97.41 490.00,97.55 490.25,97.61 490.50,97.59 490.75,97.49 491.00,97.31 491.25,97.03 491.50,96.67 491.75,96.19 492.00,95.59 492.25,94.86 492.50,93.97 492.75,92.93 493.00,91.70 493.25,90.28 493.50,88.67 493.75,86.85 494.00,84.84 494.25,82.62 494.50,80.24 494.75,77.69 495.00,75.02 495.25,72.27 495.50,69.47 495.75,66.69 496.00,63.97 496.25,61.38 496.50,58.98 496.75,56.83 497.00,54.99 497.25,53.49 497.50,52.40 497.75,51.73 498.00,51.50 498.25,51.73 498.50,52.40 498.75,53.49 499.00,54.99 499.25,56.83 499.50,58.98 499.75,61.38 500.00,63.97 500.25,66.69 500.50,69.47 500.75,72.27 501.00,75.02 501.25,77.69 501.50,80.24 501.75,82.62 502.00,84.84 502.25,86.85 502.50,88.67 502.75,90.28 503.00,91.70 503.25,92.93 503.50,93.98 503.75,94.86 504.00,95.59 504.25,96.19 504.50,96.67 504.75,97.04 505.00,97.32 505.25,97.51 505.50,97.62 505.75,97.65 506.00,97.61 506.25,97.49 506.50,97.30 506.75,97.01 507.00,96.64 507.25,96.16 507.50,95.56 507.75,94.82 508.00,93.95 508.25,92.91 508.50,91.71 508.75,90.33 509.00,88.76 509.25,87.00 509.50,85.06 509.75,82.95 510.00,80.67 510.25,78.27 510.50,75.76 510.75,73.19 511.00,70.60 511.25,68.04 511.50,65.57 511.75,63.24 512.00,61.10 512.25,59.22 512.50,57.63 512.75,56.39 513.00,55.53 513.25,55.08 513.50,55.03 513.75,55.41 514.00,56.19 514.25,57.36 514.50,58.87 514.75,60.70 515.00,62.79 515.25,65.09 515.50,67.54 515.75,70.09 516.00,72.67 516.25,75.25 516.50,77.78 516.75,80.20 517.00,82.50 517.25,84.65 517.50,86.63 517.75,88.42 518.00,90.03 518.25,91.45 518.50,92.69 518.75,93.76 519.00,94.67 519.25,95.43 519.50,96.07 519.75,96.58 520.00,96.99 520.25,97.31 520.50,97.54 520.75,97.71 521.00,97.81 521.25,97.85 521.50,97.83 521.75,97.76 522.00,97.62 522.25,97.43 522.50,97.18 522.75,96.85 523.00,96.45 523.25,95.96 523.50,95.39 523.75,94.72 524.00,93.95 524.25,93.09 524.50,92.12 524.75,91.05 525.00,89.89 525.25,88.64 525.50,87.33 525.75,85.96 526.00,84.57 526.25,83.17 526.50,81.79 526.75,80.46 527.00,79.22 527.25,78.09 527.50,77.10 527.75,76.28 528.00,75.64 528.25,75.22 528.50,75.02 528.75,75.04 529.00,75.29 529.25,75.75 529.50,76.43 529.75,77.28 530.00,78.30 530.25,79.46 530.50,80.72 530.75,82.06 531.00,83.44 531.25,84.85 531.50,86.24 531.75,87.60 532.00,88.90 532.25,90.13 532.50,91.27 532.75,92.32 533.00,93.27 533.25,94.12 533.50,94.87 533.75,95.52 534.00,96.08 534.25,96.56 534.50,96.95 534.75,97.28 535.00,97.54 535.25,97.75 535.50,97.91 535.75,98.02 536.00,98.09 536.25,98.12 536.50,98.12 536.75,98.09 537.00,98.02 537.25,97.91 537.50,97.76 537.75,97.58 538.00,97.34 538.25,97.07 538.50,96.73 538.75,96.35 539.00,95.90 539.25,95.40 539.50,94.84 539.75,94.22 540.00,93.54 540.25,92.82 540.50,92.06 540.75,91.26 541.00,90.45 541.25,89.64 541.50,88.84 541.75,88.07 542.00,87.35 542.25,86.69 542.50,86.12 542.75,85.64 543.00,85.27 543.25,85.03 543.50,84.91 543.75,84.92 544.00,85.07 544.25,85.34 544.50,85.73 544.75,86.22 545.00,86.82 545.25,87.49 545.50,88.22 545.75,89.00 546.00,89.80 546.25,90.62 546.50,91.42 546.75,92.21 547.00,92.97 547.25,93.68 547.50,94.35 547.75,94.96 548.00,95.51 548.25,96.00 548.50,96.44 548.75,96.82 549.00,97.14 549.25,97.42 549.50,97.65 549.75,97.85 550.00,98.01 550.25,98.13 550.50,98.24 550.75,98.31 551.00,98.37 551.25,98.41 551.50,98.44 551.75,98.45 552.00,98.45 552.25,98.44 552.50,98.41 552.75,98.37 553.00,98.31 553.25,98.24 553.50,98.14 553.75,98.03 554.00,97.88 554.25,97.71 554.50,97.50 554.75,97.26 555.00,96.98 555.25,96.67 555.50,96.31 555.75,95.91 556.00,95.47 556.25,95.00 556.50,94.49 556.75,93.95 557.00,93.40 557.25,92.84 557.50,92.27 557.75,91.72 558.00,91.19 558.25,90.70 558.50,90.26 558.75,89.87 559.00,89.56 559.25,89.32 559.50,89.17 559.75,89.10 560.00,89.13 560.25,89.25 560.50,89.45 560.75,89.74 561.00,90.10 561.25,90.52 561.50,90.99 561.75,91.51 562.00,92.05 562.25,92.61 562.50,93.18 562.75,93.73 563.00,94.28 563.25,94.80 563.50,95.28 563.75,95.74 564.00,96.15 564.25,96.53 564.50,96.86 564.75,97.16 565.00,97.41 565.25,97.63 565.50,97.81 565.75,97.97 566.00,98.10 566.25,98.20 566.50,98.28 566.75,98.35 567.00,98.39 567.25,98.42 567.50,98.44 567.75,98.45 568.00,98.45 568.25,98.43 568.50,98.40 568.75,98.36 569.00,98.31 569.25,98.24 569.50,98.16 569.75,98.06 570.00,97.95 570.25,97.81 570.50,97.66 570.75,97.48 571.00,97.28 571.25,97.06 571.50,96.83 571.75,96.57 572.00,96.31 572.25,96.03 572.50,95.75 572.75,95.46 573.00,95.18 573.25,94.91 573.50,94.66 573.75,94.43 574.00,94.23 574.25,94.06 574.50,93.93 574.75,93.85 575.00,93.80 575.25,93.81 575.50,93.86 575.75,93.95 576.00,94.09 576.25,94.26 576.50,94.47 576.75,94.71 577.00,94.96 577.25,95.24 577.50,95.52 577.75,95.80 578.00,96.09 578.25,96.36 578.50,96.63 578.75,96.88 579.00,97.11 579.25,97.32 579.50,97.52 579.75,97.69 580.00,97.84 580.25,97.98 580.50,98.09 580.75,98.19 581.00,98.27 581.25,98.34 581.50,98.39 581.75,98.44 582.00,98.48" fill="none" stroke="#222" stroke-width="0.8"/>
<line x1="482.5" y1="46.4" x2="482.5" y2="98.6" stroke="#bbb" stroke-width="0.6"/>
<line x1="498.0" y1="52.5" x2="498.0" y2="98.6" stroke="#bbb" stroke-width="0.6"/>
<line x1="513.4" y1="56.0" x2="513.4" y2="98.6" stroke="#bbb" stroke-width="0.6"/>
<line x1="528.6" y1="76.0" x2="528.6" y2="98.6" stroke="#bbb" stroke-width="0.6"/>
<line x1="543.6" y1="85.9" x2="543.6" y2="98.6" stroke="#bbb" stroke-width="0.6"/>
<line x1="559.8" y1="90.1" x2="559.8" y2="98.6" stroke="#bbb" stroke-width="0.6"/>
<line x1="575.1" y1="94.8" x2="575.1" y2="98.6" stroke="#bbb" stroke-width="0.6"/>
<text x="474.0" y="36.9" font-size="7" text-anchor="start" font-weight="bold" fill="#111" stroke="#111" stroke-width="0.15" textLength="17.2" lengthAdjust="spacingAndGlyphs">932.6</text>
<text x="489.3" y="46.5" font-size="7" text-anchor="start" font-weight="bold" fill="#111" stroke="#111" stroke-width="0.15" textLength="17.2" lengthAdjust="spacingAndGlyphs">933.1</text>
<text x="505.8" y="53.8" font-size="7" text-anchor="start" font-weight="bold" fill="#111" stroke="#111" stroke-width="0.15" textLength="17.2" lengthAdjust="spacingAndGlyphs">933.6</text>
<text x="519.6" y="72.3" font-size="7" text-anchor="start" font-weight="bold" fill="#111" stroke="#111" stroke-width="0.15" textLength="17.2" lengthAdjust="spacingAndGlyphs">934.1</text>
<text x="536.3" y="80.9" font-size="7" text-anchor="start" font-weight="bold" fill="#111" stroke="#111" stroke-width="0.15" textLength="17.2" lengthAdjust="spacingAndGlyphs">934.6</text>
<text x="552.8" y="88.0" font-size="7" text-anchor="start" font-weight="bold" fill="#111" stroke="#111" stroke-width="0.15" textLength="17.2" lengthAdjust="spacingAndGlyphs">935.1</text>
<text x="573.2" y="92.2" font-size="7" text-anchor="start" font-weight="bold" fill="#111" stroke="#111" stroke-width="0.15" textLength="17.2" lengthAdjust="spacingAndGlyphs">935.6</text>
<path d="M180,22.3 C169,22.3 161.5,29 160.3,38 L159.6,49 C160,54.5 162.5,58 165.8,60.8" fill="none" stroke="#161616" stroke-width="1.3" stroke-linecap="round" stroke-linejoin="round"/>
<path d="M187.3,42.4 L180,42.8 C174.5,43 171.2,47.5 170.6,54 L169.5,64 C167.5,70 163.2,76 163.3,82.5 C163.6,86.5 166,88 175.2,88" fill="none" stroke="#161616" stroke-width="1.3" stroke-linecap="round" stroke-linejoin="round"/>
<path d="M176,65.5 L180,65.3" fill="none" stroke="#161616" stroke-width="1.3" stroke-linecap="round" stroke-linejoin="round"/>
<path d="M227.6,22.1 L243.6,22.1 C250.5,22.5 253.8,27 253.8,33 L253.6,46.5 C253.4,55 251,61.5 247,63.8 L236,65" fill="none" stroke="#161616" stroke-width="1.3" stroke-linecap="round" stroke-linejoin="round"/>
<path d="M222.4,46.9 L230,47.3 C238.5,48 244.5,53.5 246.6,63.5" fill="none" stroke="#161616" stroke-width="1.3" stroke-linecap="round" stroke-linejoin="round"/>
<path d="M231.6,88 C236.5,87 240.5,85 242.9,79.4" fill="none" stroke="#161616" stroke-width="1.3" stroke-linecap="round" stroke-linejoin="round"/>
<path d="M200.6,22 L206.2,22.2" fill="none" stroke="#161616" stroke-width="1.3" stroke-linecap="round" stroke-linejoin="round"/>
<polygon points="179.75,22.10 186.35,17.70 197.75,17.70 200.75,22.10 194.15,26.50 182.75,26.50" fill="#f20d0d" stroke="#161616" stroke-width="1.2" stroke-linejoin="round"/>
<polygon points="206.40,22.15 213.00,17.75 224.40,17.75 227.40,22.15 220.80,26.55 209.40,26.55" fill="#f20d0d" stroke="#161616" stroke-width="1.2" stroke-linejoin="round"/>
<polygon points="187.10,42.60 193.70,38.20 205.10,38.20 208.10,42.60 201.50,47.00 190.10,47.00" fill="#0ca3d4" stroke="#161616" stroke-width="1.2" stroke-linejoin="round"/>
<polygon points="201.60,47.00 208.20,42.60 219.60,42.60 222.60,47.00 216.00,51.40 204.60,51.40" fill="#0ca3d4" stroke="#161616" stroke-width="1.2" stroke-linejoin="round"/>
<polygon points="179.75,65.10 186.35,60.70 197.75,60.70 200.75,65.10 194.15,69.50 182.75,69.50" fill="#0c9340" stroke="#161616" stroke-width="1.2" stroke-linejoin="round"/>
<polygon points="199.15,60.65 205.75,56.25 217.15,56.25 220.15,60.65 213.55,65.05 202.15,65.05" fill="#0c9340" stroke="#161616" stroke-width="1.2" stroke-linejoin="round"/>
<polygon points="195.55,69.55 202.15,65.15 213.55,65.15 216.55,69.55 209.95,73.95 198.55,73.95" fill="#0c9340" stroke="#161616" stroke-width="1.2" stroke-linejoin="round"/>
<polygon points="214.95,65.10 221.55,60.70 232.95,60.70 235.95,65.10 229.35,69.50 217.95,69.50" fill="#0c9340" stroke="#161616" stroke-width="1.2" stroke-linejoin="round"/>
<polygon points="175.70,88.50 182.30,84.10 193.70,84.10 196.70,88.50 190.10,92.90 178.70,92.90" fill="#0c9340" stroke="#161616" stroke-width="1.2" stroke-linejoin="round"/>
<polygon points="195.10,84.05 201.70,79.65 213.10,79.65 216.10,84.05 209.50,88.45 198.10,88.45" fill="#0c9340" stroke="#161616" stroke-width="1.2" stroke-linejoin="round"/>
<polygon points="191.50,92.95 198.10,88.55 209.50,88.55 212.50,92.95 205.90,97.35 194.50,97.35" fill="#0c9340" stroke="#161616" stroke-width="1.2" stroke-linejoin="round"/>
<polygon points="210.90,88.50 217.50,84.10 228.90,84.10 231.90,88.50 225.30,92.90 213.90,92.90" fill="#0c9340" stroke="#161616" stroke-width="1.2" stroke-linejoin="round"/>
<circle cx="159.5" cy="41.5" r="3.0" fill="#f5cf1f" stroke="#2a2000" stroke-width="1.1"/>
<circle cx="159.5" cy="49.1" r="3.0" fill="#f5cf1f" stroke="#2a2000" stroke-width="1.1"/>
<circle cx="170.2" cy="57.0" r="3.0" fill="#f5cf1f" stroke="#2a2000" stroke-width="1.1"/>
<circle cx="169.4" cy="63.8" r="3.0" fill="#f5cf1f" stroke="#2a2000" stroke-width="1.1"/>
<circle cx="253.6" cy="39.3" r="3.0" fill="#f5cf1f" stroke="#2a2000" stroke-width="1.1"/>
<circle cx="253.6" cy="46.7" r="3.0" fill="#f5cf1f" stroke="#2a2000" stroke-width="1.1"/>
<circle cx="244.2" cy="72.1" r="3.0" fill="#f5cf1f" stroke="#2a2000" stroke-width="1.1"/>
<circle cx="242.9" cy="79.4" r="3.0" fill="#f5cf1f" stroke="#2a2000" stroke-width="1.1"/>
<path d="M253.1,234 L246,234 C243.5,234 242.6,235.5 242.6,238 L243.6,265 C243.8,268 246,269.2 250.1,269.2" fill="none" stroke="#333" stroke-width="1.0" stroke-linecap="round" stroke-linejoin="round"/>
<path d="M289.6,233.6 L296,233 C298.5,233 299.3,234.5 299.4,237 L299.2,265.5 C299,268 297.5,269.2 292.7,269.2" fill="none" stroke="#333" stroke-width="1.0" stroke-linecap="round" stroke-linejoin="round"/>
<path d="M269,233.9 L273.7,234" fill="none" stroke="#333" stroke-width="1.0" stroke-linecap="round" stroke-linejoin="round"/>
<polygon points="252.91,234.20 258.00,230.81 266.77,230.81 269.08,234.20 264.00,237.59 255.22,237.59" fill="#f20d0d" stroke="#161616" stroke-width="0.8" stroke-linejoin="round"/>
<polygon points="273.52,234.10 278.60,230.71 287.38,230.71 289.69,234.10 284.60,237.49 275.83,237.49" fill="#f20d0d" stroke="#161616" stroke-width="0.8" stroke-linejoin="round"/>
<polygon points="250.37,269.20 255.42,265.83 264.14,265.83 266.43,269.20 261.38,272.57 252.66,272.57" fill="#0c9340" stroke="#161616" stroke-width="0.8" stroke-linejoin="round"/>
<polygon points="265.21,265.80 270.26,262.43 278.98,262.43 281.27,265.80 276.22,269.16 267.50,269.16" fill="#0c9340" stroke="#161616" stroke-width="0.8" stroke-linejoin="round"/>
<polygon points="262.45,272.60 267.50,269.24 276.22,269.24 278.52,272.60 273.47,275.97 264.75,275.97" fill="#0c9340" stroke="#161616" stroke-width="0.8" stroke-linejoin="round"/>
<polygon points="277.30,269.20 282.34,265.83 291.07,265.83 293.36,269.20 288.31,272.57 279.59,272.57" fill="#0c9340" stroke="#161616" stroke-width="0.8" stroke-linejoin="round"/>
<circle cx="244.0" cy="250.4" r="2.1" fill="#f5cf1f" stroke="#2a2000" stroke-width="0.7"/>
<circle cx="243.7" cy="255.9" r="2.1" fill="#f5cf1f" stroke="#2a2000" stroke-width="0.7"/>
<circle cx="298.9" cy="248.7" r="2.1" fill="#f5cf1f" stroke="#2a2000" stroke-width="0.7"/>
<circle cx="298.7" cy="254.2" r="2.1" fill="#f5cf1f" stroke="#2a2000" stroke-width="0.7"/>
<path d="M453.9,216.2 L448.5,216.3 C445,216.5 443.3,219 443,223 L442.2,243 C442.3,246 445,247.3 449.2,247.3" fill="none" stroke="#444" stroke-width="1.0" stroke-linecap="round" stroke-linejoin="round"/>
<path d="M487.1,212.5 L495.5,213.2 C498.5,213.5 499.8,215.5 499.8,219 L500.1,244 C500,246.5 497.5,247.3 493.5,247.3" fill="none" stroke="#444" stroke-width="1.0" stroke-linecap="round" stroke-linejoin="round"/>
<polygon points="453.59,216.00 459.00,212.39 468.35,212.39 470.81,216.00 465.40,219.61 456.05,219.61" fill="#0ca3d4" stroke="#161616" stroke-width="0.9" stroke-linejoin="round"/>
<polygon points="469.59,212.70 475.00,209.09 484.35,209.09 486.81,212.70 481.40,216.31 472.05,216.31" fill="#0ca3d4" stroke="#161616" stroke-width="0.9" stroke-linejoin="round"/>
<polygon points="449.40,247.30 454.62,243.82 463.62,243.82 466.00,247.30 460.78,250.78 451.77,250.78" fill="#0c9340" stroke="#161616" stroke-width="0.8" stroke-linejoin="round"/>
<polygon points="464.73,243.78 469.94,240.31 478.95,240.31 481.32,243.78 476.11,247.26 467.10,247.26" fill="#0c9340" stroke="#161616" stroke-width="0.8" stroke-linejoin="round"/>
<polygon points="461.89,250.82 467.10,247.34 476.11,247.34 478.48,250.82 473.26,254.29 464.26,254.29" fill="#0c9340" stroke="#161616" stroke-width="0.8" stroke-linejoin="round"/>
<polygon points="477.21,247.30 482.43,243.82 491.43,243.82 493.80,247.30 488.59,250.78 479.58,250.78" fill="#0c9340" stroke="#161616" stroke-width="0.8" stroke-linejoin="round"/>
<circle cx="442.4" cy="228.6" r="2.1" fill="#f5cf1f" stroke="#2a2000" stroke-width="0.7"/>
<circle cx="442.4" cy="234.1" r="2.1" fill="#f5cf1f" stroke="#2a2000" stroke-width="0.7"/>
<circle cx="498.7" cy="226.5" r="2.1" fill="#f5cf1f" stroke="#2a2000" stroke-width="0.7"/>
<circle cx="498.7" cy="231.9" r="2.1" fill="#f5cf1f" stroke="#2a2000" stroke-width="0.7"/>
</svg></body></html>
